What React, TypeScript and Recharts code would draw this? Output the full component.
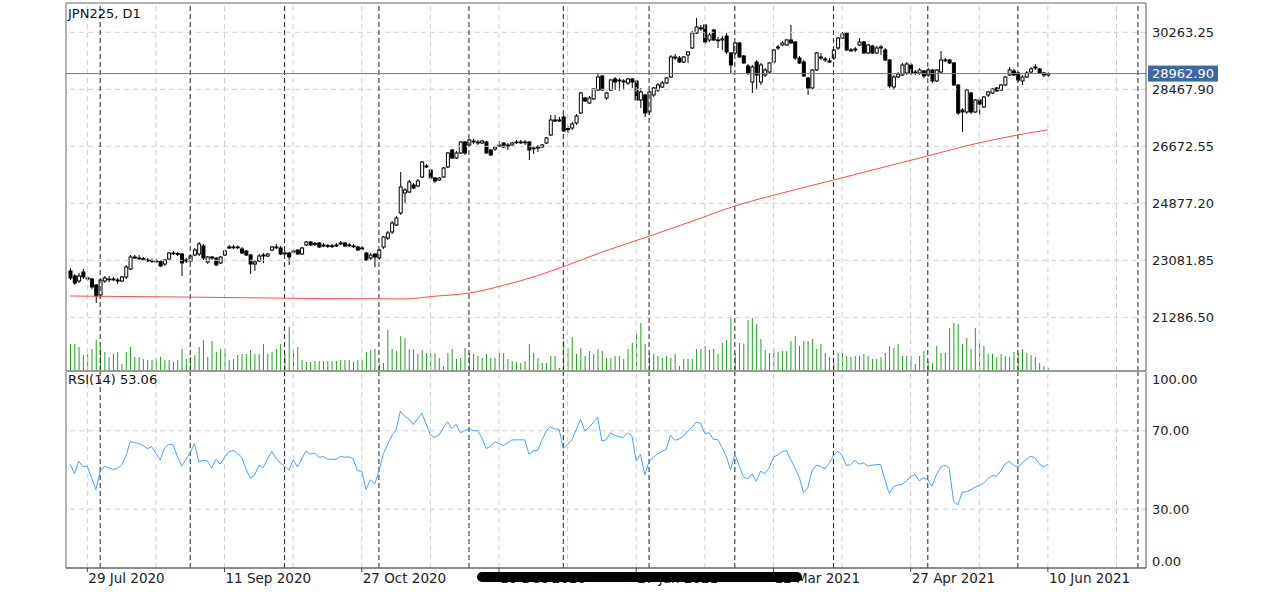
import React from 'react';
import { ComposedChart, Bar, Line, XAxis, YAxis, ReferenceLine } from 'recharts';

const FONT = '"DejaVu Sans", sans-serif';

// daily bars, oldest first (JPN225 D1)
const opens = [
  22745, 22587, 22430, 22713, 22524, 22493, 22304, 21989, 22430, 22493,
  22477, 22461, 22430, 22556, 22808, 23186, 23154, 23138, 23091, 23075,
  23060, 23044, 22965, 23123, 23312, 23296, 23280, 23060, 23060, 23249,
  23280, 23532, 23028, 23186, 23154, 22997, 23249, 23469, 23501, 23485,
  23438, 23375, 23249, 22965, 23060, 23217, 23217, 23406, 23501, 23469,
  23312, 23312, 23343, 23406, 23280, 23564, 23658, 23595, 23627, 23532,
  23548, 23532, 23532, 23595, 23627, 23564, 23532, 23501, 23438, 23312,
  23154, 23280, 23154, 23501, 23784, 23973, 24194, 24572, 25202, 25233,
  25454, 25422, 25706, 26052, 25926, 25674, 25611, 25706, 26021, 26556,
  26304, 26462, 26808, 26714, 26840, 26808, 26777, 26808, 26556, 26588,
  26682, 26777, 26682, 26714, 26808, 26808, 26792, 26808, 26619, 26619,
  26651, 26777, 27029, 27470, 27501, 27596, 27202, 27249, 27407, 27722,
  28194, 28037, 28163, 28446, 28887, 28194, 28446, 28793, 28730, 28730,
  28667, 28793, 28730, 28131, 28289, 27753, 28289, 28446, 28541, 28667,
  28856, 29486, 29454, 29328, 29549, 29769, 30242, 30399, 30494, 30021,
  30336, 30021, 30021, 30147, 29612, 29612, 29927, 29517, 29202, 28698,
  29328, 28698, 28919, 29013, 29328, 29769, 29864, 29864, 30021, 29958,
  29454, 29328, 28824, 28509, 29076, 29486, 29423, 29360, 29454, 29769,
  30084, 30242, 29706, 29706, 29864, 29958, 29612, 29832, 29612, 29769,
  29706, 29391, 28541, 28856, 28919, 28982, 29234, 29013, 28982, 29045,
  28919, 29076, 28730, 29013, 29391, 29391, 29297, 28604, 27816, 27753,
  28352, 27753, 28131, 27911, 28289, 28352, 28509, 28446, 28604, 28919,
  29045, 28982, 28730, 28856, 29013, 29171, 29108, 28982, 28919,
];
const highs = [
  22839, 22650, 22682, 22808, 22587, 22524, 22335, 22493, 22587, 22587,
  22556, 22524, 22587, 22934, 23249, 23249, 23249, 23186, 23154, 23138,
  23123, 23091, 23123, 23343, 23375, 23343, 23312, 23154, 23249, 23469,
  23658, 23595, 23217, 23217, 23186, 23217, 23406, 23564, 23564, 23548,
  23501, 23406, 23280, 23091, 23280, 23312, 23312, 23532, 23595, 23532,
  23375, 23343, 23438, 23438, 23501, 23690, 23690, 23658, 23658, 23627,
  23595, 23595, 23627, 23690, 23658, 23627, 23595, 23532, 23532, 23343,
  23312, 23312, 23438, 23847, 24005, 24320, 24477, 25863, 25359, 25611,
  25517, 25643, 26210, 26115, 25958, 25706, 25706, 26021, 26493, 26588,
  26525, 26840, 26840, 26903, 26903, 26871, 26871, 26840, 26588, 26682,
  26840, 26808, 26777, 26808, 26871, 26871, 26871, 26840, 26682, 26714,
  26745, 26966, 27659, 27659, 27596, 27659, 27312, 27438, 27690, 28383,
  28226, 28257, 28509, 28982, 28919, 28383, 28793, 28856, 28824, 28793,
  28824, 28824, 28761, 28509, 28320, 28415, 28541, 28667, 28730, 28856,
  29549, 29580, 29517, 29517, 29675, 30305, 30714, 30494, 30525, 30242,
  30368, 30116, 30147, 30242, 29643, 29958, 29958, 29549, 29265, 29234,
  29391, 29297, 29139, 29328, 29738, 29864, 29990, 30053, 30494, 29990,
  29517, 29391, 28856, 29108, 29643, 29612, 29486, 29454, 29738, 30116,
  30273, 30273, 29769, 29801, 30084, 29990, 29895, 29864, 29832, 29864,
  29769, 29423, 28919, 29013, 29297, 29328, 29297, 29076, 29139, 29076,
  29139, 29108, 29108, 29675, 29454, 29423, 29328, 28635, 27879, 28478,
  28383, 28163, 28194, 28257, 28415, 28509, 28541, 28635, 28887, 29171,
  29108, 29013, 28919, 29045, 29171, 29265, 29139, 29013, 29013,
];
const lows = [
  22461, 22304, 22367, 22493, 22430, 22178, 21737, 21894, 22367, 22398,
  22430, 22335, 22398, 22493, 22776, 23123, 23091, 23060, 23028, 22997,
  22997, 22871, 22902, 23091, 23249, 23217, 22587, 22997, 23028, 23217,
  23217, 23091, 22965, 23091, 22902, 22965, 23217, 23438, 23438, 23438,
  23280, 23217, 22650, 22745, 23028, 22997, 23186, 23375, 23438, 23249,
  23249, 22934, 23312, 23249, 23249, 23532, 23532, 23532, 23469, 23501,
  23469, 23469, 23501, 23564, 23501, 23501, 23469, 23375, 23406, 23060,
  23091, 22871, 23091, 23438, 23721, 23910, 24162, 24509, 24887, 25202,
  25328, 25391, 25674, 25989, 25643, 25517, 25580, 25674, 25989, 26273,
  26273, 26430, 26399, 26682, 26745, 26714, 26745, 26430, 26367, 26525,
  26651, 26619, 26556, 26682, 26745, 26745, 26714, 26241, 26430, 26493,
  26619, 26745, 26997, 27438, 27438, 27123, 27092, 27186, 27344, 27690,
  28068, 28005, 28131, 28415, 28415, 28131, 28415, 28446, 28415, 28446,
  28604, 28509, 28100, 27879, 27596, 27659, 28226, 28383, 28509, 28635,
  28824, 29391, 29297, 29297, 29297, 29738, 30210, 30305, 29895, 29958,
  29990, 29769, 29706, 29580, 28982, 29549, 29454, 29265, 28919, 28352,
  28446, 28604, 28856, 28982, 29265, 29706, 29832, 29832, 29895, 29391,
  29265, 28856, 28289, 28446, 29045, 29391, 29328, 29297, 29391, 29706,
  30053, 29675, 29643, 29643, 29832, 29580, 29580, 29580, 29580, 29549,
  29360, 28509, 28446, 28824, 28887, 28919, 28919, 28919, 28919, 28824,
  28856, 28667, 28698, 28982, 29328, 29265, 28572, 27659, 27123, 27690,
  27690, 27722, 27659, 27879, 28226, 28320, 28383, 28415, 28572, 28887,
  28887, 28698, 28604, 28824, 28982, 29076, 28950, 28856, 28856,
];
const closes = [
  22524, 22367, 22587, 22556, 22493, 22241, 21957, 22461, 22524, 22477,
  22493, 22430, 22556, 22871, 23186, 23154, 23138, 23091, 23075, 23060,
  23044, 22902, 23091, 23312, 23296, 23280, 22997, 23091, 23217, 23406,
  23595, 23154, 23186, 23154, 22934, 23186, 23375, 23501, 23485, 23501,
  23312, 23249, 22965, 23028, 23217, 23249, 23280, 23501, 23485, 23280,
  23296, 23186, 23375, 23280, 23469, 23658, 23564, 23611, 23501, 23564,
  23532, 23538, 23564, 23627, 23532, 23548, 23516, 23406, 23469, 23091,
  23249, 23186, 23406, 23816, 23942, 24257, 24414, 25391, 25296, 25548,
  25359, 25580, 26178, 26021, 25674, 25580, 25674, 25989, 26462, 26304,
  26462, 26808, 26462, 26871, 26808, 26777, 26840, 26462, 26399, 26651,
  26714, 26651, 26714, 26777, 26799, 26792, 26808, 26556, 26610, 26651,
  26714, 26934, 27501, 27501, 27470, 27155, 27233, 27375, 27627, 28352,
  28100, 28194, 28478, 28856, 28446, 28352, 28761, 28698, 28761, 28698,
  28793, 28698, 28131, 28383, 27722, 28383, 28509, 28604, 28667, 28824,
  29486, 29454, 29328, 29486, 29643, 30242, 30431, 30383, 29958, 30179,
  30021, 30012, 30053, 29643, 29234, 29927, 29486, 29297, 28982, 29171,
  28919, 29234, 29076, 29297, 29706, 29801, 29927, 30021, 29927, 29454,
  29297, 28887, 28509, 29076, 29612, 29454, 29391, 29328, 29706, 30084,
  30210, 29706, 29697, 29738, 29958, 29612, 29864, 29612, 29769, 29801,
  29391, 28572, 28856, 28950, 29234, 29265, 28982, 29004, 29076, 28887,
  29076, 28730, 29076, 29391, 29382, 29297, 28604, 27722, 27753, 28446,
  27753, 28131, 28005, 28226, 28383, 28478, 28415, 28604, 28856, 29076,
  28919, 28761, 28856, 28982, 29108, 29139, 28982, 28919, 28962.9,
];
const volumes = [
  27000, 27000, 24000, 16000, 17000, 22000, 31000, 24000, 19000, 14000,
  17000, 19000, 7000, 19000, 24000, 14000, 14000, 12000, 11000, 11000,
  12000, 14000, 11000, 11000, 9000, 11000, 22000, 12000, 14000, 16000,
  24000, 31000, 14000, 30000, 19000, 22000, 22000, 11000, 12000, 16000,
  17000, 17000, 21000, 17000, 17000, 27000, 17000, 19000, 22000, 27000,
  17000, 44000, 21000, 24000, 11000, 9000, 9000, 10000, 10000, 10000,
  10000, 10000, 10000, 11000, 11000, 11000, 9000, 11000, 11000, 19000,
  21000, 22000, 7000, 8000, 41000, 22000, 20000, 35000, 33000, 22000,
  22000, 17000, 21000, 18000, 18000, 18000, 13000, 5000, 18000, 22000,
  12000, 13000, 23000, 18000, 17000, 15000, 13000, 17000, 13000, 13000,
  18000, 18000, 12000, 10000, 9000, 8000, 10000, 27000, 18000, 13000,
  8000, 8000, 15000, 15000, 3000, 30000, 23000, 34000, 17000, 23000,
  15000, 20000, 17000, 22000, 20000, 13000, 13000, 15000, 15000, 12000,
  22000, 28000, 38000, 48000, 27000, 18000, 17000, 15000, 13000, 15000,
  13000, 17000, 5000, 12000, 12000, 12000, 22000, 22000, 25000, 21000,
  22000, 17000, 28000, 31000, 53000, 18000, 28000, 27000, 51000, 53000,
  47000, 32000, 21000, 18000, 22000, 19000, 20000, 20000, 30000, 35000,
  25000, 30000, 30000, 32000, 22000, 27000, 18000, 14000, 8000, 18000,
  18000, 15000, 14000, 15000, 15000, 17000, 15000, 12000, 12000, 14000,
  18000, 25000, 23000, 27000, 15000, 15000, 15000, 7000, 15000, 20000,
  10000, 8000, 25000, 18000, 18000, 43000, 48000, 47000, 27000, 33000,
  22000, 43000, 28000, 25000, 17000, 17000, 14000, 17000, 15000, 14000,
  19000, 18000, 22000, 18000, 16000, 14000, 8000, 5000, 3000,
];
const rsi = [
  53, 48, 54.5, 51.6, 52, 46, 40, 49.4, 52, 51,
  50.3, 50.8, 52.5, 57, 64.5, 64, 63.5, 62.5, 60.9, 61.9,
  58.5, 55.1, 61.2, 63.2, 62.8, 57, 52, 55.4, 58.8, 63.5,
  54, 55, 54.6, 51.1, 55.4, 53, 56.5, 59.3, 60, 58.5,
  56.5, 50.5, 45.8, 47.4, 52.3, 51.3, 55.5, 59.7, 56, 53.5,
  52, 49.9, 55.1, 51.6, 55.6, 59.7, 58.1, 58.7, 56.5, 56.8,
  55.6, 55.4, 55.4, 57, 56.5, 56.7, 55.7, 49.6, 49.4, 40,
  45, 42.8, 49.5, 58, 63, 67.5, 70.5, 80, 77.5, 76,
  73.2, 76, 79, 73.5, 68, 66.6, 67.9, 71.5, 74.6, 71.2,
  73.3, 69, 70, 71.2, 70, 70.2, 66.5, 61, 62, 64.5,
  63.5, 62.5, 63.8, 65.3, 65.4, 65.4, 65.4, 58, 59.8, 60,
  65, 70, 72, 70.9, 70.9, 61.1, 63, 65.5, 70.5, 76,
  70, 71.7, 74.3, 76.9, 64.8, 65.4, 69, 67.7, 67, 66.6,
  69, 67.4, 54.5, 58, 47.5, 54.4, 56.5, 58.3, 59.4, 60.6,
  67.8, 65.2, 65.8, 67.2, 69.8, 71.7, 74.5, 73.9, 68.6, 69,
  65.6, 65.6, 61.5, 57, 50, 58, 52.3, 46.5, 45.4, 48,
  44.2, 49.4, 48.2, 51, 56.5, 57.7, 59.3, 60, 55.5, 51.1,
  46.5, 38.5, 41, 49.5, 52.5, 51.8, 50.6, 53.5, 57.2, 59.6,
  57.5, 52.3, 52.7, 55, 53, 53.6, 52, 52.4, 52.8, 52.8,
  45, 38, 41.5, 42.3, 42.5, 44.5, 46.5, 47.7, 44.5, 46,
  45, 41.8, 47.5, 51.5, 52.5, 51, 34, 32.2, 38.5, 39,
  39.8, 41.2, 42, 43.4, 45.5, 47.2, 46.8, 49.5, 53, 54.5,
  52.3, 51.5, 53.5, 55.5, 57, 56.3, 53, 51.5, 53.06,
];

// moving average read at these bars
const maBars = [0, 30, 60, 78, 85, 93, 101, 109, 115, 124, 135, 145, 155, 166, 178, 189, 200, 210, 221, 228];
const maValues = [21957, 21920, 21875, 21866, 21950, 22050, 22290, 22600, 22880, 23340, 23840, 24310, 24790, 25200, 25610, 25990, 26370, 26720, 27030, 27190];

const priceTicks = [21286.5, 23081.85, 24877.2, 26672.55, 28467.9, 30263.25];
const rsiTicks = [0, 30, 70, 100];
const rsiLevels = [30, 70];
const dateBars = [4, 36, 68, 100, 132, 164, 196, 228];
const dateLabels = ['29 Jul 2020', '11 Sep 2020', '27 Oct 2020', '10 Dec 2020', '27 Jan 2021', '12 Mar 2021', '27 Apr 2021', '10 Jun 2021'];
const gridBars = [4, 20, 36, 52, 68, 84, 100, 116, 132, 148, 164, 180, 196, 212, 228, 244];
const monthStarts = [7, 28, 50, 72, 93, 115, 135, 155, 178, 200, 221, 249];

const X_DOMAIN: [number, number] = [-0.968, 250.88];
const PRICE_DOMAIN: [number, number] = [19595, 31186];
const VOL_DOMAIN: [number, number] = [0, 368000];
const lastClose = closes[closes.length - 1];

const rows = closes.map((c, i) => {
  const m = maBars.indexOf(i);
  return {
    i,
    range: [lows[i], highs[i]],
    open: opens[i],
    high: highs[i],
    low: lows[i],
    close: c,
    vol: volumes[i],
    rsi: rsi[i],
    ma: m >= 0 ? maValues[m] : null,
  };
});

const Candle = (props: any) => {
  const { x, y, width, height } = props;
  const d = props.payload || props;
  if (x == null || y == null || !height) return null;
  const top = Math.min(y, y + height);
  const h = Math.abs(height);
  const k = h / (d.high - d.low);
  const yo = top + (d.high - d.open) * k;
  const yc = top + (d.high - d.close) * k;
  const cx = x + width / 2;
  const up = d.close >= d.open;
  return (
    <g>
      <line x1={cx} x2={cx} y1={top} y2={top + h} stroke="#000" strokeWidth={1} />
      <rect
        x={x}
        y={Math.min(yo, yc)}
        width={width}
        height={Math.max(Math.abs(yo - yc), 0.8)}
        fill={up ? '#fff' : '#000'}
        stroke="#000"
        strokeWidth={1}
      />
    </g>
  );
};

const PriceTick = ({ x, y, payload }: any) => {
  const v = payload.value as number;
  if (v === lastClose) {
    return (
      <g>
        <rect x={x - 4} y={y - 8} width={70} height={16} fill="#3b6aa0" />
        <text x={x} y={y} dy={4.6} fill="#fff" fontSize={13} fontFamily={FONT}>{v.toFixed(2)}</text>
      </g>
    );
  }
  return <text x={x} y={y} dy={4.6} fill="#222" fontSize={13} fontFamily={FONT}>{v.toFixed(2)}</text>;
};

const RsiTick = ({ x, y, payload }: any) => {
  const v = payload.value as number;
  const shift = v === 100 ? 7 : v === 0 ? -7 : 0;
  return <text x={x} y={y + shift} dy={4.6} fill="#222" fontSize={13} fontFamily={FONT}>{v.toFixed(2)}</text>;
};

const DateTick = ({ x, y, payload }: any) => {
  const label = dateLabels[dateBars.indexOf(payload.value)];
  return (
    <g>
      <line x1={x} x2={x} y1={y} y2={y + 4} stroke="#444" />
      <text x={x + 1} y={y + 15} fill="#222" fontSize={13.5} fontFamily={FONT}>{label}</text>
    </g>
  );
};

const gridLine = { stroke: '#cfcfcf', strokeDasharray: '5 4', strokeWidth: 1 };
const sepLine = { stroke: '#222', strokeDasharray: '5 3', strokeWidth: 1 };

export default function App() {
  return (
    <div style={{ position: 'absolute', left: 0, top: 0, width: 1280, height: 592, background: '#fff' }}>
      <div style={{ position: 'absolute', left: 0, top: 0 }}>
        <ComposedChart width={1280} height={372} data={rows} margin={{ top: 3, right: 0, bottom: 1, left: 66 }}>
          <XAxis xAxisId="x" dataKey="i" type="number" domain={X_DOMAIN} allowDataOverflow hide />
          <XAxis xAxisId="xv" dataKey="i" type="number" domain={X_DOMAIN} allowDataOverflow hide />
          <YAxis
            yAxisId="price"
            orientation="right"
            width={134}
            domain={PRICE_DOMAIN}
            allowDataOverflow
            ticks={[...priceTicks, lastClose]}
            interval={0}
            tick={<PriceTick />}
            tickLine={false}
            tickSize={0}
            tickMargin={6}
            axisLine={{ stroke: '#555' }}
          />
          <YAxis yAxisId="vol" domain={VOL_DOMAIN} hide />
          {priceTicks.map((p) => (
            <ReferenceLine key={'h' + p} xAxisId="x" yAxisId="price" y={p} {...gridLine} />
          ))}
          {gridBars.map((g) => (
            <ReferenceLine key={'g' + g} xAxisId="x" yAxisId="price" x={g} {...gridLine} />
          ))}
          {monthStarts.map((m) => (
            <ReferenceLine key={'m' + m} xAxisId="x" yAxisId="price" x={m} {...sepLine} />
          ))}
          <ReferenceLine xAxisId="x" yAxisId="price" y={PRICE_DOMAIN[1]} stroke="#666" />
          <ReferenceLine xAxisId="x" yAxisId="price" x={X_DOMAIN[0]} stroke="#666" />
          <ReferenceLine xAxisId="x" yAxisId="price" y={lastClose} stroke="#5a7eab" />
          <Bar xAxisId="xv" yAxisId="vol" dataKey="vol" barSize={1} fill="#22a022" isAnimationActive={false} />
          <Line
            xAxisId="x"
            yAxisId="price"
            dataKey="ma"
            type="monotone"
            connectNulls
            dot={false}
            stroke="#ff4d4d"
            strokeWidth={1}
            isAnimationActive={false}
          />
          <Bar xAxisId="x" yAxisId="price" dataKey="range" barSize={3} shape={<Candle />} isAnimationActive={false} />
          <ReferenceLine xAxisId="x" yAxisId="price" y={PRICE_DOMAIN[0]} stroke="#999" strokeWidth={2} />
        </ComposedChart>
      </div>
      <div style={{ position: 'absolute', left: 0, top: 371 }}>
        <ComposedChart width={1280} height={221} data={rows} margin={{ top: 1, right: 0, bottom: 0, left: 66 }}>
          <XAxis
            dataKey="i"
            type="number"
            domain={X_DOMAIN}
            allowDataOverflow
            ticks={dateBars}
            interval={0}
            height={24}
            tick={<DateTick />}
            tickLine={false}
            tickSize={0}
            tickMargin={0}
            axisLine={{ stroke: '#666', strokeWidth: 1.5 }}
          />
          <YAxis
            orientation="right"
            width={134}
            domain={[0, 100]}
            ticks={rsiTicks}
            interval={0}
            tick={<RsiTick />}
            tickLine={false}
            tickSize={0}
            tickMargin={6}
            axisLine={{ stroke: '#555' }}
          />
          {rsiLevels.map((l) => (
            <ReferenceLine key={'l' + l} y={l} {...gridLine} />
          ))}
          {gridBars.map((g) => (
            <ReferenceLine key={'g' + g} x={g} {...gridLine} />
          ))}
          {monthStarts.map((m) => (
            <ReferenceLine key={'m' + m} x={m} {...sepLine} />
          ))}
          <ReferenceLine x={X_DOMAIN[0]} stroke="#666" />
          <Line dataKey="rsi" type="linear" dot={false} stroke="#4aa3f5" strokeWidth={1} isAnimationActive={false} />
        </ComposedChart>
      </div>
      <div style={{ position: 'absolute', left: 68, top: 6, fontFamily: FONT, fontSize: 13, lineHeight: '15px', color: '#111' }}>
        JPN225, D1
      </div>
      <div style={{ position: 'absolute', left: 68, top: 372, fontFamily: FONT, fontSize: 13, lineHeight: '15px', color: '#111' }}>
        RSI(14) 53.06
      </div>
      <div style={{ position: 'absolute', left: 477, top: 572, width: 325, height: 10, borderRadius: 5, background: '#000' }} />
    </div>
  );
}
